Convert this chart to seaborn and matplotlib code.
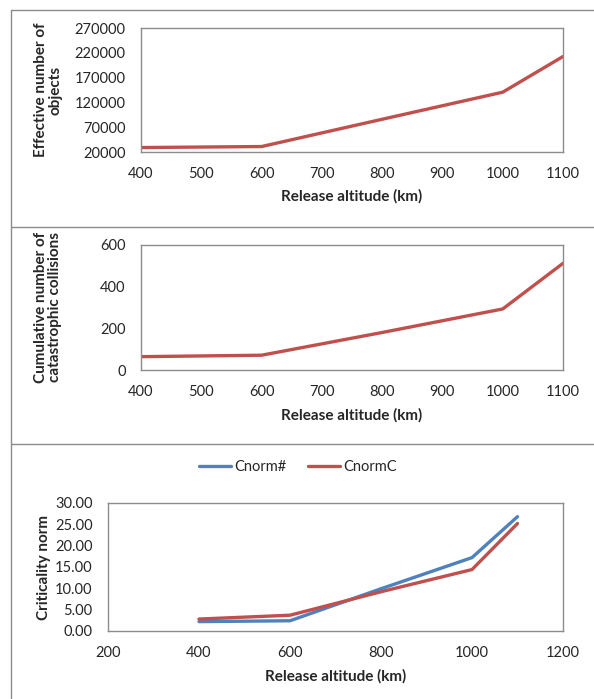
import matplotlib
matplotlib.use("Agg")
import matplotlib.pyplot as plt
from matplotlib.lines import Line2D
from matplotlib.ticker import FormatStrFormatter
import numpy as np
import pandas as pd
import seaborn as sns

# Release altitudes (km) and results
altitude = [400, 600, 800, 1000, 1100]
effective_objects = [29000, 31000, 86000, 140600, 212500]
catastrophic_collisions = [64, 71, 180, 293, 512]
cnorm_hash = [2.2, 2.4, 9.9, 17.2, 26.8]
cnorm_c = [2.8, 3.7, 9.2, 14.4, 25.2]

x_ticks_top = [400, 500, 600, 700, 800, 900, 1000, 1100]
y_ticks_objects = [20000, 70000, 120000, 170000, 220000, 270000]
y_ticks_collisions = [0, 200, 400, 600]
x_ticks_norm = [200, 400, 600, 800, 1000, 1200]
y_ticks_norm = [0, 5, 10, 15, 20, 25, 30]

RED = "#C0504D"
BLUE = "#4F81BD"
SPINE = "#8C8C8C"
FRAME = "#8C8C8C"
TICK_FS = 10.5
LABEL_FS = 11

sns.set_style("white")
plt.rcParams["font.family"] = ["Lato", "DejaVu Sans"]

W, H = 594, 699
fig = plt.figure(figsize=(W / 100, H / 100), dpi=100)


def axes_px(left, top, right, bottom):
    return fig.add_axes([left / W, 1 - bottom / H, (right - left) / W, (bottom - top) / H])


def style_axes(ax):
    for s in ax.spines.values():
        s.set_visible(True)
        s.set_color(SPINE)
        s.set_linewidth(1.0)
    ax.tick_params(axis="both", which="major", direction="out", length=4, width=1.0,
                   color=SPINE, labelsize=TICK_FS, labelcolor="#262626")
    ax.tick_params(axis="y", pad=7)
    ax.tick_params(axis="x", pad=7)
    ax.grid(False)


# panel frames
frame_lines = [
    Line2D([11 / W, 11 / W], [1 - 10 / H, 0], transform=fig.transFigure, color=FRAME, lw=1),
    Line2D([11 / W, 1], [1 - 10 / H, 1 - 10 / H], transform=fig.transFigure, color=FRAME, lw=1),
    Line2D([11 / W, 1], [1 - 227 / H, 1 - 227 / H], transform=fig.transFigure, color=FRAME, lw=1),
    Line2D([11 / W, 1], [1 - 444 / H, 1 - 444 / H], transform=fig.transFigure, color=FRAME, lw=1),
]
for ln in frame_lines:
    fig.add_artist(ln)

# Effective number of objects
df1 = pd.DataFrame({"alt": altitude, "val": effective_objects})
ax1 = axes_px(141, 28, 563, 152)
sns.lineplot(data=df1, x="alt", y="val", ax=ax1, color=RED, linewidth=2.4)
ax1.set_xlim(400, 1100)
ax1.set_ylim(20000, 270000)
ax1.set_xticks(x_ticks_top)
ax1.set_yticks(y_ticks_objects)
style_axes(ax1)
ax1.set_xlabel("Release altitude (km)", fontsize=LABEL_FS, fontweight="bold")
ax1.set_ylabel("Effective number of\nobjects", fontsize=LABEL_FS, fontweight="bold", linespacing=1.05)
ax1.xaxis.set_label_coords(0.5, (152 - 196) / 124)
ax1.xaxis.label.set_va("center")
ax1.yaxis.set_label_coords((48 - 141) / 422, 0.5)
ax1.yaxis.label.set_va("center")

# Cumulative number of catastrophic collisions
df2 = pd.DataFrame({"alt": altitude, "val": catastrophic_collisions})
ax2 = axes_px(141, 245, 563, 370)
sns.lineplot(data=df2, x="alt", y="val", ax=ax2, color=RED, linewidth=2.4)
ax2.set_xlim(400, 1100)
ax2.set_ylim(0, 600)
ax2.set_xticks(x_ticks_top)
ax2.set_yticks(y_ticks_collisions)
style_axes(ax2)
ax2.set_xlabel("Release altitude (km)", fontsize=LABEL_FS, fontweight="bold")
ax2.set_ylabel("Cumulative number of\ncatastrophic collisions", fontsize=LABEL_FS, fontweight="bold",
               linespacing=1.05)
ax2.xaxis.set_label_coords(0.5, (370 - 415) / 125)
ax2.xaxis.label.set_va("center")
ax2.yaxis.set_label_coords((48 - 141) / 422, 0.5)
ax2.yaxis.label.set_va("center")

# Criticality norm
df3 = pd.DataFrame({
    "alt": altitude * 2,
    "val": cnorm_hash + cnorm_c,
    "series": ["Cnorm#"] * len(altitude) + ["CnormC"] * len(altitude),
})
ax3 = axes_px(108, 503, 563, 631)
sns.lineplot(data=df3, x="alt", y="val", hue="series", ax=ax3,
             palette={"Cnorm#": BLUE, "CnormC": RED}, linewidth=2.4, legend=False)
ax3.set_xlim(200, 1200)
ax3.set_ylim(0, 30)
ax3.set_xticks(x_ticks_norm)
ax3.set_yticks(y_ticks_norm)
ax3.yaxis.set_major_formatter(FormatStrFormatter("%.2f"))
style_axes(ax3)
ax3.set_xlabel("Release altitude (km)", fontsize=LABEL_FS, fontweight="bold")
ax3.set_ylabel("Criticality norm", fontsize=LABEL_FS, fontweight="bold")
ax3.xaxis.set_label_coords(0.5, (631 - 676) / 128)
ax3.xaxis.label.set_va("center")
ax3.yaxis.set_label_coords((44 - 108) / 455, 0.5)
ax3.yaxis.label.set_va("center")

handles = [Line2D([], [], color=BLUE, lw=2.4), Line2D([], [], color=RED, lw=2.4)]
fig.legend(handles, ["Cnorm#", "CnormC"], loc="center", bbox_to_anchor=(298 / W, 1 - 467 / H),
           ncol=2, frameon=False, fontsize=TICK_FS, handlelength=2.2, handletextpad=0.2,
           columnspacing=1.5)

fig.savefig("out.png", dpi=100)
